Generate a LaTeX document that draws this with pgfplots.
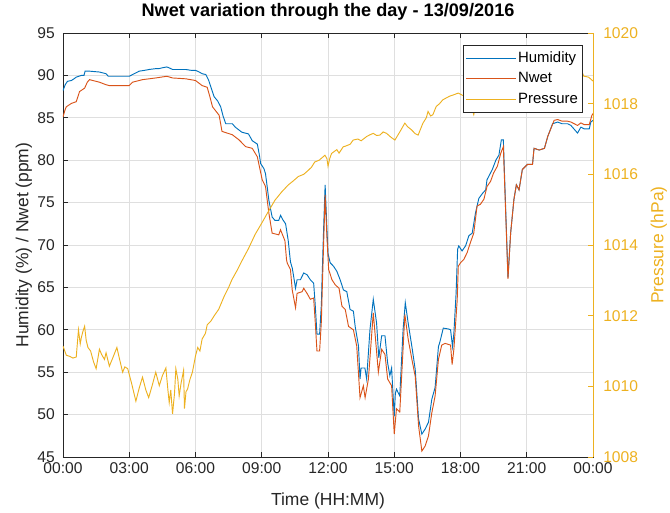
\documentclass[border=0pt]{standalone}
\usepackage{fontspec}
\setmainfont{Liberation Sans}
\usepackage{pgfplots}
\pgfplotsset{compat=1.18}

\definecolor{humblue}{RGB}{0,114,189}
\definecolor{nwetred}{RGB}{217,83,25}
\definecolor{presyellow}{RGB}{237,177,32}
\definecolor{axgray}{RGB}{38,38,38}
\definecolor{gridgray}{RGB}{223,223,223}

% Humidity (%) over the day, time in hours
\pgfplotstableread{
t v
0 88.2
0.1 88.9
0.2 89.3
0.38 89.4
0.5 89.6
0.6 89.8
0.83 90.0
0.95 90.0
1.0 90.5
1.2 90.5
1.65 90.4
1.8 90.3
1.95 90.2
2.05 89.9
2.5 89.9
3.0 89.9
3.15 90.1
3.3 90.3
3.45 90.5
3.7 90.6
3.9 90.7
4.2 90.8
4.35 90.8
4.5 90.9
4.7 91.0
4.8 90.9
4.96 90.7
5.3 90.7
5.56 90.7
5.8 90.6
6.0 90.6
6.17 90.4
6.3 90.2
6.47 90.1
6.6 89.4
6.7 88.6
6.84 87.5
7.0 87.0
7.14 86.3
7.25 85.2
7.37 84.3
7.67 84.3
7.8 83.9
8.1 83.3
8.4 83.1
8.57 82.3
8.8 81.9
8.9 80.5
8.95 79.6
9.1 79.0
9.17 78.4
9.25 76.8
9.32 75.3
9.47 73.3
9.6 72.9
9.77 72.9
9.85 73.5
9.95 73.0
10.08 72.5
10.2 70.5
10.3 68.0
10.38 67.3
10.45 66.2
10.53 64.9
10.6 65.9
10.75 65.9
10.9 66.7
11.05 66.5
11.2 65.9
11.35 65.5
11.42 63.0
11.5 59.5
11.62 59.5
11.7 63.0
11.73 65.9
11.8 71.8
11.87 77.1
11.95 72.0
12.0 69.0
12.1 67.9
12.25 67.5
12.4 66.9
12.55 65.9
12.7 64.7
12.85 64.5
13.0 62.4
13.15 62.2
13.23 60.4
13.38 58.1
13.45 54.2
13.5 55.5
13.67 55.5
13.75 54.2
13.9 60.0
14.05 63.6
14.2 60.8
14.3 56.7
14.43 59.3
14.58 59.3
14.7 56.1
14.8 54.6
14.88 55.5
15.0 49.8
15.05 52.5
15.1 53.0
15.25 52.2
15.4 60.0
15.5 63.2
15.63 60.8
15.8 58.0
15.95 55.3
16.1 49.5
16.25 47.7
16.4 48.3
16.55 49.1
16.7 51.8
16.85 53.2
17.0 58.0
17.07 58.6
17.22 60.2
17.45 60.1
17.55 60.0
17.64 58.0
17.7 59.6
17.8 64.3
17.87 69.5
17.92 69.9
18.07 69.3
18.23 69.9
18.38 71.1
18.53 71.4
18.68 73.8
18.83 75.5
19.0 76.1
19.14 76.5
19.2 77.7
19.44 78.9
19.6 80.0
19.74 80.6
19.85 82.4
19.94 82.4
20.15 66.2
20.27 71.4
20.42 75.4
20.53 77.1
20.65 76.5
20.8 78.9
21.03 79.5
21.26 79.5
21.33 81.4
21.56 81.2
21.8 81.4
21.95 82.8
22.17 84.3
22.4 84.5
22.6 84.3
22.85 84.3
23.0 84.1
23.3 83.2
23.45 83.9
23.6 83.7
23.83 83.7
23.9 84.5
24.0 84.7
}\humidity

% Wet refractivity (ppm)
\pgfplotstableread{
t v
0 85.1
0.1 86.0
0.15 86.3
0.38 86.7
0.6 86.9
0.75 88.1
0.98 88.5
1.1 89.2
1.2 89.5
1.65 89.2
1.95 88.9
2.1 88.8
3.0 88.8
3.15 89.2
3.6 89.5
4.2 89.7
4.7 89.9
4.96 89.7
5.56 89.6
6.0 89.4
6.3 88.8
6.53 88.6
6.65 87.5
6.77 86.3
7.07 85.3
7.2 83.4
7.67 83.0
7.97 82.4
8.27 81.6
8.57 81.4
8.8 80.4
9.02 77.7
9.17 76.9
9.32 73.8
9.47 71.4
9.77 71.2
9.85 71.8
10.05 70.5
10.12 68.3
10.15 67.9
10.3 67.1
10.38 64.7
10.53 62.6
10.6 64.3
10.83 64.5
10.9 64.9
11.05 64.3
11.2 63.6
11.35 63.75
11.42 61.0
11.5 57.5
11.62 57.5
11.7 61.0
11.73 63.9
11.8 70.0
11.87 75.9
11.95 71.0
12.03 67.1
12.18 65.9
12.33 65.3
12.5 64.9
12.63 62.8
12.78 62.4
12.93 60.4
13.15 60.0
13.3 58.1
13.45 52.0
13.6 53.4
13.68 52.0
13.83 54.2
14.05 62.0
14.28 55.0
14.43 57.7
14.58 57.1
14.7 54.2
14.88 53.4
15.0 47.7
15.1 50.7
15.25 50.3
15.48 61.8
15.63 58.9
15.8 56.5
15.95 54.5
16.1 48.7
16.25 45.7
16.4 46.3
16.55 47.5
16.7 50.2
16.85 52.2
17.0 56.5
17.15 58.2
17.3 58.4
17.55 58.2
17.62 55.9
17.7 57.7
17.85 63.5
17.9 67.5
18.0 67.9
18.15 68.3
18.3 69.1
18.45 70.3
18.6 71.4
18.75 74.6
18.9 74.8
19.06 75.4
19.2 76.9
19.36 77.5
19.5 78.5
19.67 79.3
19.82 80.8
19.94 81.6
20.15 66.0
20.27 71.4
20.42 75.4
20.53 77.1
20.65 76.5
20.8 78.9
21.03 79.5
21.26 79.5
21.33 81.4
21.56 81.2
21.8 81.4
21.95 82.8
22.24 84.7
22.4 84.8
22.6 84.6
22.85 84.6
23.0 84.5
23.3 84.1
23.45 84.4
23.6 84.2
23.83 84.2
23.95 85.3
24.0 85.5
}\nwet

% Surface pressure (hPa)
\pgfplotstableread{
t v
0 1011.14
0.08 1011.0
0.15 1010.88
0.3 1010.85
0.45 1010.8
0.6 1010.83
0.7 1011.6
0.78 1011.2
0.83 1011.38
0.9 1011.55
0.98 1011.70
1.05 1011.3
1.13 1011.10
1.25 1011.0
1.38 1010.7
1.5 1010.50
1.65 1011.05
1.75 1010.9
1.88 1010.76
1.95 1010.95
2.1 1010.57
2.25 1010.8
2.44 1011.10
2.55 1010.8
2.7 1010.40
2.8 1010.55
2.93 1010.50
3.1 1010.1
3.3 1009.58
3.45 1009.95
3.6 1010.26
3.75 1009.9
3.88 1009.68
4.05 1010.05
4.2 1010.40
4.36 1010.02
4.5 1010.3
4.66 1010.52
4.75 1009.9
4.81 1009.54
4.88 1009.9
4.96 1009.22
5.05 1009.8
5.11 1010.50
5.2 1010.2
5.26 1009.73
5.35 1010.1
5.46 1010.45
5.5 1009.37
5.57 1009.85
5.64 1009.92
5.75 1010.2
5.86 1010.40
6.0 1010.86
6.1 1011.1
6.2 1011.0
6.3 1011.34
6.45 1011.5
6.53 1011.74
6.7 1011.85
6.85 1012.0
7.05 1012.18
7.3 1012.55
7.5 1012.8
7.65 1013.02
7.9 1013.3
8.1 1013.55
8.4 1013.90
8.7 1014.3
9.0 1014.62
9.3 1014.95
9.6 1015.27
9.9 1015.5
10.2 1015.70
10.4 1015.8
10.66 1015.94
10.9 1016.0
11.1 1016.11
11.25 1016.2
11.4 1016.35
11.6 1016.4
11.86 1016.54
11.95 1016.45
12.0 1016.23
12.08 1016.45
12.16 1016.59
12.4 1016.7
12.5 1016.6
12.69 1016.78
12.8 1016.8
13.0 1016.85
13.14 1016.97
13.35 1017.0
13.5 1016.95
13.75 1017.07
13.9 1017.12
14.05 1017.16
14.2 1017.1
14.35 1017.11
14.5 1017.2
14.65 1017.16
14.85 1017.05
15.03 1016.97
15.26 1017.21
15.48 1017.45
15.6 1017.35
15.78 1017.26
15.95 1017.15
16.08 1017.11
16.3 1017.45
16.45 1017.6
16.53 1017.78
16.65 1017.65
16.75 1017.69
16.9 1017.92
17.05 1018.0
17.2 1018.11
17.5 1018.21
17.73 1018.26
17.9 1018.3
18.2 1018.2
18.45 1018.0
18.6 1017.69
18.75 1018.1
19.0 1018.2
19.5 1018.3
20.0 1018.35
20.5 1018.5
21.0 1018.55
21.5 1018.6
22.0 1018.7
22.5 1018.85
23.0 1018.95
23.2 1019.1
23.35 1019.07
23.5 1018.9
23.58 1018.78
23.8 1018.75
24.0 1018.64
}\pressure

\pgfplotsset{
  dayaxis/.style={
    width=397.5pt, height=318pt, scale only axis,
    at={(0,0)}, anchor=south west,
    xmin=0, xmax=24,
    xtick={0,3,...,24},
    xticklabels={00:00,03:00,06:00,09:00,12:00,15:00,18:00,21:00,00:00},
    tick align=inside,
    major tick length=3.75pt,
    /pgf/number format/assume math mode=true,
    /pgf/number format/1000 sep={},
    tick label style={font=\fontsize{11.7}{14}\selectfont},
    label style={font=\fontsize{13.1}{16}\selectfont},
  },
}

\begin{document}
\begin{tikzpicture}
\useasboundingbox (-47.25pt,-41.25pt) rectangle (455.25pt,342.75pt);

% left axis: humidity and Nwet
\begin{axis}[dayaxis,
  ymin=45, ymax=95, ytick={45,50,...,95},
  xtick pos=both, ytick pos=left, xticklabel pos=lower,
  grid=major, major grid style={gridgray, line width=0.6pt},
  axis line style={axgray, line width=0.6pt},
  tick style={axgray, line width=0.6pt},
  xticklabel style={axgray, anchor=base, yshift=-12.1pt},
  yticklabel style={axgray, anchor=east, inner sep=0pt, xshift=-6pt},
  title={Nwet variation through the day - 13/09/2016},
  title style={at={(axis description cs:0.5,1.0189)}, anchor=base,
    font=\bfseries\fontsize{13.6}{16}\selectfont},
  xlabel={Time (HH:MM)},
  xlabel style={axgray, at={(axis description cs:0.5,-0.1132)}, anchor=base},
  ylabel={Humidity (\%) / Nwet (ppm)},
  ylabel style={axgray, at={(axis description cs:-0.0655,0.5)}, anchor=base},
]
\addplot[humblue, line width=0.7pt] table[x=t, y=v] {\humidity};
\addplot[nwetred, line width=0.7pt] table[x=t, y=v] {\nwet};
\end{axis}

% right axis: pressure
\begin{axis}[dayaxis,
  ymin=1008, ymax=1020, ytick={1008,1010,...,1020},
  axis x line=none, axis y line*=right,
  y axis line style={presyellow, line width=0.6pt},
  ytick style={presyellow, line width=0.6pt},
  yticklabel style={presyellow, anchor=west, inner sep=0pt, xshift=7.5pt},
  ylabel={Pressure (hPa)},
  ylabel style={presyellow, at={(axis description cs:1.133,0.5)}, anchor=base},
  legend entries={Humidity,Nwet,Pressure},
  legend cell align=left,
  legend image code/.code={\draw[#1] (0pt,0pt) -- (37pt,0pt);},
  legend style={at={(axis description cs:0.981,0.9717)}, anchor=north east,
    draw=axgray, line width=0.6pt, fill=white,
    font=\fontsize{11.2}{13}\selectfont,
    inner xsep=2pt, inner ysep=3.2pt, row sep=1.8pt,
    nodes={inner sep=1.5pt, text height=8.2pt, text depth=2.2pt}},
]
\addlegendimage{humblue, line width=0.7pt}
\addlegendimage{nwetred, line width=0.7pt}
\addplot[presyellow, line width=0.7pt] table[x=t, y=v] {\pressure};
\end{axis}
\end{tikzpicture}
\end{document}
